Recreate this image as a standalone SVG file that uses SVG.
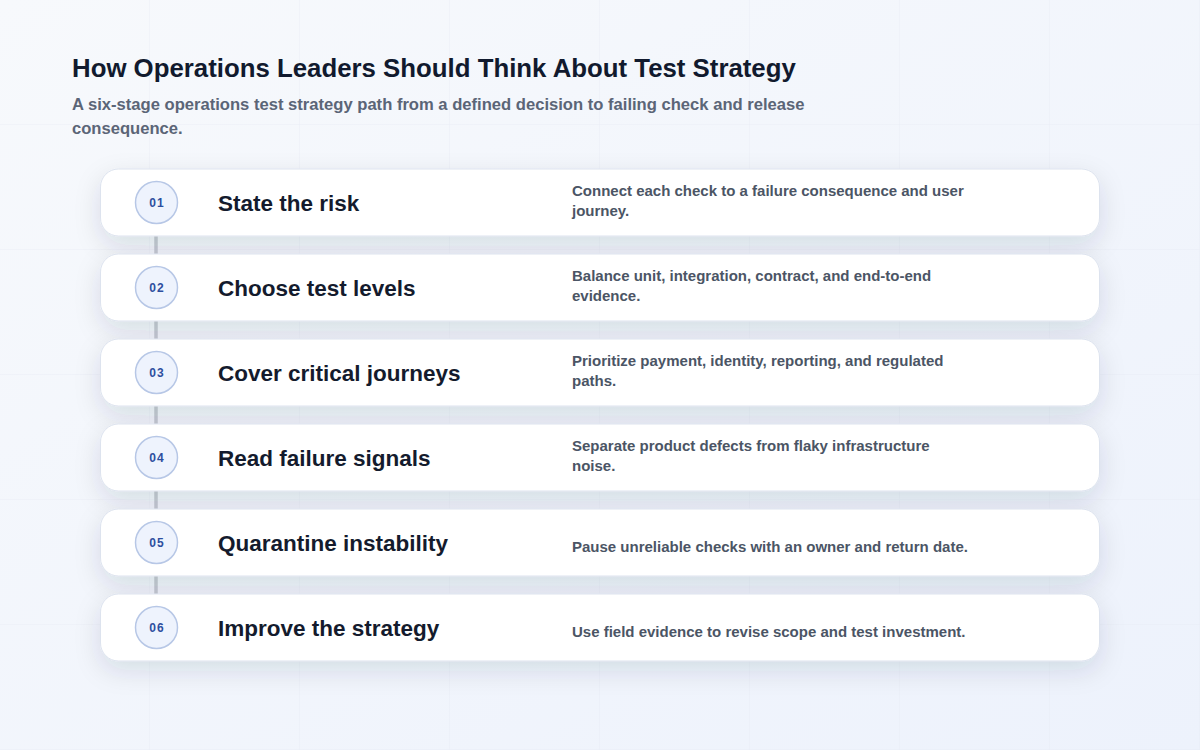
<svg xmlns="http://www.w3.org/2000/svg" width="1200" height="750" viewBox="0 0 1200 750">
<defs>
<linearGradient id="bg" x1="0" y1="0" x2="1" y2="1">
<stop offset="0" stop-color="#f7f9fc"/>
<stop offset="1" stop-color="#edf2fc"/>
</linearGradient>
<pattern id="grid" width="150" height="125" patternUnits="userSpaceOnUse">
<path d="M150 0V125M0 125H150" fill="none" stroke="#e3e8f1" stroke-width="1" opacity="0.6"/>
</pattern>
<filter id="sh" x="-10%" y="-30%" width="120%" height="180%">
<feDropShadow dx="0" dy="9" stdDeviation="13" flood-color="#1e2a50" flood-opacity="0.12"/>
</filter>
<style>
.card{fill:#ffffff;stroke:#dde3ee;stroke-width:1;filter:url(#sh)}
.num{fill:#eef3fd;stroke:#b7c7e6;stroke-width:1.5}
.numt{font-family:"Liberation Sans",Arial,sans-serif;font-size:12px;font-weight:700;fill:#2d4f9f;letter-spacing:1px;text-anchor:middle}
.ttl{font-family:"Liberation Sans",Arial,sans-serif;font-size:22.5px;font-weight:700;fill:#141b2d}
.desc{font-family:"Liberation Sans",Arial,sans-serif;font-size:15px;font-weight:700;fill:#4b5565}
.conn{stroke:#c7cbd3;stroke-width:3.5;fill:none}
</style>
</defs>
<rect width="1200" height="750" fill="url(#bg)"/>
<rect width="1200" height="750" fill="url(#grid)"/>
<text x="72" y="77" font-family="Liberation Sans, Arial, sans-serif" font-size="25.8" font-weight="700" fill="#111a2e">How Operations Leaders Should Think About Test Strategy</text>
<text font-family="Liberation Sans, Arial, sans-serif" font-size="16.6" font-weight="700" fill="#5b6577"><tspan x="72" y="110">A six-stage operations test strategy path from a defined decision to failing check and release</tspan><tspan x="72" y="134">consequence.</tspan></text>
<g id="connectors">
<line class="conn" x1="156" y1="236" x2="156" y2="254"/>
<line class="conn" x1="156" y1="321" x2="156" y2="339"/>
<line class="conn" x1="156" y1="406" x2="156" y2="424"/>
<line class="conn" x1="156" y1="491" x2="156" y2="509"/>
<line class="conn" x1="156" y1="576" x2="156" y2="594"/>
</g>
<g id="stage1">
<rect class="card" x="100.5" y="169" width="999" height="67" rx="18"/>
<circle class="num" cx="156.5" cy="202.5" r="21"/>
<text class="numt" x="157" y="207">01</text>
<text class="ttl" x="218" y="211">State the risk</text>
<text class="desc"><tspan x="572" y="196">Connect each check to a failure consequence and user</tspan><tspan x="572" y="216">journey.</tspan></text>
</g>
<g id="stage2">
<rect class="card" x="100.5" y="254" width="999" height="67" rx="18"/>
<circle class="num" cx="156.5" cy="287.5" r="21"/>
<text class="numt" x="157" y="292">02</text>
<text class="ttl" x="218" y="296">Choose test levels</text>
<text class="desc"><tspan x="572" y="281">Balance unit, integration, contract, and end-to-end</tspan><tspan x="572" y="301">evidence.</tspan></text>
</g>
<g id="stage3">
<rect class="card" x="100.5" y="339" width="999" height="67" rx="18"/>
<circle class="num" cx="156.5" cy="372.5" r="21"/>
<text class="numt" x="157" y="377">03</text>
<text class="ttl" x="218" y="381">Cover critical journeys</text>
<text class="desc"><tspan x="572" y="366">Prioritize payment, identity, reporting, and regulated</tspan><tspan x="572" y="386">paths.</tspan></text>
</g>
<g id="stage4">
<rect class="card" x="100.5" y="424" width="999" height="67" rx="18"/>
<circle class="num" cx="156.5" cy="457.5" r="21"/>
<text class="numt" x="157" y="462">04</text>
<text class="ttl" x="218" y="466">Read failure signals</text>
<text class="desc"><tspan x="572" y="451">Separate product defects from flaky infrastructure</tspan><tspan x="572" y="471">noise.</tspan></text>
</g>
<g id="stage5">
<rect class="card" x="100.5" y="509" width="999" height="67" rx="18"/>
<circle class="num" cx="156.5" cy="542.5" r="21"/>
<text class="numt" x="157" y="547">05</text>
<text class="ttl" x="218" y="551">Quarantine instability</text>
<text class="desc" x="572" y="552">Pause unreliable checks with an owner and return date.</text>
</g>
<g id="stage6">
<rect class="card" x="100.5" y="594" width="999" height="67" rx="18"/>
<circle class="num" cx="156.5" cy="627.5" r="21"/>
<text class="numt" x="157" y="632">06</text>
<text class="ttl" x="218" y="636">Improve the strategy</text>
<text class="desc" x="572" y="637">Use field evidence to revise scope and test investment.</text>
</g>
</svg>
